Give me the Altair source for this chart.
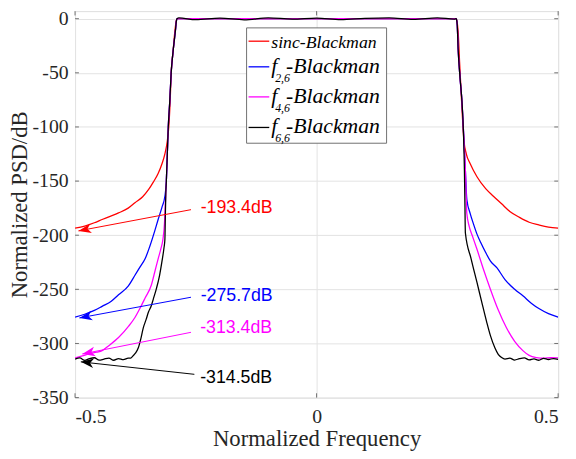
import altair as alt
import pandas as pd

# ---------------- data ----------------
x_ticks = [-0.5, 0.0, 0.5]
y_ticks = [-350, -300, -250, -200, -150, -100, -50, 0]

series_names = ["sinc-Blackman", "f2,6-Blackman", "f4,6-Blackman", "f6,6-Blackman"]
series_colors = ["#ff0000", "#0000ff", "#ff00ff", "#000000"]

pass_x = [-0.285, -0.25, -0.2, -0.15, -0.1, -0.05, 0.0, 0.05, 0.1, 0.15, 0.2, 0.25, 0.285]
pass_y_flat = [0, 0, 0, 0, 0, 0, 0, 0, 0, 0, 0, 0, 0]
pass_y_black = [0.7, -0.9, 0.5, -1.0, 0.8, -0.4, 0.6, -0.9, 0.3, 0.8, -0.6, 0.7, -0.3]

red_left_x = [-0.5, -0.48, -0.46, -0.444, -0.43, -0.41, -0.39, -0.376, -0.36, -0.348, -0.338,
              -0.328, -0.32, -0.314, -0.309, -0.306, -0.303, -0.301, -0.297, -0.293, -0.2905, -0.289]
red_left_y = [-193.4, -191.5, -188.5, -185.5, -183, -179.4, -175, -170, -164.5, -158, -151,
              -143, -134, -124.8, -113, -100, -75, -50, -30, -10, -2, 0]
red_right_x = [0.289, 0.2905, 0.293, 0.296, 0.3, 0.305, 0.31, 0.318, 0.332, 0.35, 0.366, 0.383,
               0.4, 0.42, 0.44, 0.46, 0.48, 0.5]
red_right_y = [0, -2, -12, -40, -75, -112.7, -125, -134, -146, -157, -164, -171,
               -178, -183.5, -188, -190.5, -192.5, -193.4]

blue_left_x = [-0.5, -0.48, -0.46, -0.444, -0.425, -0.41, -0.39, -0.376, -0.365, -0.355, -0.345,
               -0.335, -0.328, -0.32, -0.314, -0.311, -0.309, -0.307, -0.304, -0.301, -0.297,
               -0.292, -0.2905, -0.289]
blue_left_y = [-275.7, -273, -269.5, -265.7, -261, -255, -247, -237, -229, -221.8, -210,
               -196, -185.5, -174, -164, -150, -125, -100, -77, -50, -30,
               -10, -3, 0]
blue_right_x = [0.289, 0.291, 0.293, 0.297, 0.301, 0.305, 0.308, 0.311, 0.318, 0.325, 0.332,
                0.34, 0.35, 0.36, 0.373, 0.39, 0.41, 0.427, 0.445, 0.461, 0.48, 0.5]
blue_right_y = [0, -5, -28, -55, -77, -112, -140, -167, -180, -190, -199,
                -207, -216, -224, -230, -241, -250, -256, -263, -268, -272.5, -275.7]

mag_left_x = [-0.5, -0.485, -0.47, -0.455, -0.444, -0.43, -0.41, -0.389, -0.376, -0.365, -0.355,
              -0.342, -0.335, -0.328, -0.322, -0.318, -0.315, -0.313, -0.311, -0.309, -0.307,
              -0.304, -0.301, -0.297, -0.292, -0.2905, -0.289]
mag_left_y = [-313.4, -311.5, -309.5, -308, -306.6, -302, -294.5, -284, -276, -267, -258,
              -246, -234, -221.8, -212, -203.6, -190, -170, -150, -125, -100,
              -77, -50, -30, -10, -3, 0]
mag_right_x = [0.289, 0.291, 0.293, 0.297, 0.301, 0.305, 0.308, 0.311, 0.316, 0.322, 0.332,
               0.345, 0.359, 0.375, 0.393, 0.41, 0.427, 0.44, 0.455, 0.47, 0.485, 0.5]
mag_right_y = [0, -5, -28, -55, -77, -112, -140, -180, -192, -200, -213,
               -231, -249, -268, -285.5, -298, -306.6, -311, -313, -313.6, -313.2, -313.4]

blk_left_x = [-0.5, -0.49, -0.48, -0.47, -0.46, -0.45, -0.44, -0.43, -0.42, -0.41, -0.4, -0.39,
              -0.385, -0.38, -0.375, -0.369, -0.364, -0.359, -0.353, -0.348, -0.342, -0.338,
              -0.332, -0.325, -0.32, -0.316, -0.314, -0.313, -0.312, -0.311, -0.309, -0.307,
              -0.304, -0.301, -0.297, -0.292, -0.2905, -0.289]
blk_left_y = [-314.5, -313.4, -315.6, -314.0, -313.2, -315.4, -314.4, -313.5, -315.5, -314.0,
              -315.0, -313.6, -313.5, -311.5, -309, -304, -296, -286, -278, -271, -265, -259,
              -250, -237, -224, -212, -204, -180, -160, -150, -125, -100,
              -77, -50, -30, -10, -3, 0]
blk_right_x = [0.289, 0.291, 0.293, 0.297, 0.301, 0.304, 0.306, 0.307, 0.308, 0.32, 0.332, 0.342,
               0.352, 0.36, 0.369, 0.376, 0.383, 0.39, 0.4, 0.41, 0.42, 0.43, 0.44, 0.45, 0.46,
               0.47, 0.48, 0.49, 0.5]
blk_right_y = [0, -5, -28, -55, -77, -105, -140, -170, -198, -222, -243.6, -262,
               -280, -293, -304, -310, -313, -314.4, -313.6, -315.3, -314.0, -313.3, -315.1,
               -314.2, -315.5, -313.7, -314.8, -313.9, -314.6]

ann_text = ["-193.4dB", "-275.7dB", "-313.4dB", "-314.5dB"]
ann_text_x = [-0.24, -0.24, -0.241, -0.241]
ann_text_y = [-175.2, -256.4, -286.0, -331.5]
ann_tail_x = [-0.26, -0.26, -0.26, -0.253]
ann_tail_y = [-176.4, -257.3, -289.7, -328.5]
ann_head_x = [-0.493, -0.491, -0.485, -0.488]
ann_head_y = [-196.0, -276.4, -309.7, -317.0]
ann_angle = [348.7, 349.5, 348.6, 6.3]

# ---------------- build tables ----------------
series_xy = [
    (red_left_x + pass_x + red_right_x, red_left_y + pass_y_flat + red_right_y),
    (blue_left_x + pass_x + blue_right_x, blue_left_y + pass_y_flat + blue_right_y),
    (mag_left_x + pass_x + mag_right_x, mag_left_y + pass_y_flat + mag_right_y),
    (blk_left_x + pass_x + blk_right_x, blk_left_y + pass_y_black + blk_right_y),
]

SERIF = "Liberation Serif, Times New Roman, serif"
SANS = "Liberation Sans, Arial, sans-serif"
FRAME = "#707070"
GRID = "#e3e3e3"
TXT = "#262626"

xscale = alt.Scale(domain=[-0.5, 0.5], nice=False, zero=False)
yscale = alt.Scale(domain=[-350, 7], nice=False, zero=False)

label_expr = "(datum.value < 0 ? '-' : '') + abs(datum.value)"

x_axis = alt.Axis(values=x_ticks, title="Normalized Frequency", grid=True, gridColor=GRID,
                  domain=False, ticks=False, labelExpr=label_expr, labelFont=SERIF,
                  labelFontSize=20, labelColor=TXT, labelPadding=9, titleFont=SERIF,
                  titleFontSize=23, titleFontWeight="normal", titleColor=TXT, titlePadding=2)
y_axis = alt.Axis(values=y_ticks, title="Normalized PSD/dB", grid=True, gridColor=GRID,
                  domain=False, ticks=False, labelExpr=label_expr, labelFont=SERIF,
                  labelFontSize=20, labelColor=TXT, labelPadding=7, titleFont=SERIF,
                  titleFontSize=23, titleFontWeight="normal", titleColor=TXT, titlePadding=1)


def X(field):
    return alt.X(field, type="quantitative", scale=xscale, axis=x_axis)


def Y(field):
    return alt.Y(field, type="quantitative", scale=yscale, axis=y_axis)


layers = []
for name, col, (xs, ys) in zip(series_names, series_colors, series_xy):
    d = pd.DataFrame({"x": xs, "y": ys, "i": list(range(len(xs)))})
    layers.append(
        alt.Chart(d).mark_line(strokeWidth=1.3, color=col, clip=True, interpolate="monotone").encode(
            x=X("x"), y=Y("y"), order="i:Q"
        )
    )

# inward ticks (box style)
tick_len_x = 0.008
tick_len_y = 4.0
tick_rows = []
for v in y_ticks:
    tick_rows.append({"x": -0.5, "x2": -0.5 + tick_len_x, "y": v, "y2": v})
    tick_rows.append({"x": 0.5 - tick_len_x, "x2": 0.5, "y": v, "y2": v})
for v in x_ticks:
    tick_rows.append({"x": v, "x2": v, "y": -350, "y2": -350 + tick_len_y})
    tick_rows.append({"x": v, "x2": v, "y": 7, "y2": 7 - tick_len_y})
ticks = alt.Chart(pd.DataFrame(tick_rows)).mark_rule(color=FRAME, strokeWidth=1).encode(
    x=X("x"), x2="x2:Q", y=Y("y"), y2="y2:Q"
)

ann = pd.DataFrame({
    "text": ann_text, "color": series_colors,
    "tx": ann_text_x, "ty": ann_text_y,
    "ax": ann_tail_x, "ay": ann_tail_y,
    "hx": ann_head_x, "hy": ann_head_y,
    "angle": ann_angle,
})

arrow_lines = alt.Chart(ann).mark_rule(strokeWidth=1).encode(
    x=X("ax"), x2="hx:Q", y=Y("ay"), y2="hy:Q",
    color=alt.Color("color:N", scale=None, legend=None),
)
arrow_heads = alt.Chart(ann).mark_point(
    shape="M0,0 L2,-0.75 L1.45,0 L2,0.75 Z", filled=True, size=169, opacity=1
).encode(
    x=X("hx"), y=Y("hy"),
    angle=alt.Angle("angle:Q", scale=None),
    color=alt.Color("color:N", scale=None, legend=None),
)
ann_texts = alt.Chart(ann).mark_text(align="left", baseline="middle", font=SANS, fontSize=18).encode(
    x=X("tx"), y=Y("ty"),
    text="text:N",
    color=alt.Color("color:N", scale=None, legend=None),
)

# ---------------- legend (drawn) ----------------
one = pd.DataFrame({"a": [0]})
leg_box = alt.Chart(one).mark_rect(fill="white", stroke=FRAME, strokeWidth=1).encode(
    x=alt.value(174), x2=alt.value(316), y=alt.value(17), y2=alt.value(134)
)
leg_line_y = [30.5, 56.5, 87.0, 118.0]
leg_layers = [leg_box]
for col, ly in zip(series_colors, leg_line_y):
    leg_layers.append(alt.Chart(one).mark_rule(color=col, strokeWidth=1.3).encode(
        x=alt.value(176), x2=alt.value(197), y=alt.value(ly)))
leg_layers.append(alt.Chart(one).mark_text(align="left", baseline="alphabetic", font=SERIF,
                                           fontStyle="italic", fontSize=18, color="black").encode(
    x=alt.value(199), y=alt.value(leg_line_y[0] + 7), text=alt.value("sinc-Blackman")))
subs = ["2,6", "4,6", "6,6"]
for s, ly in zip(subs, leg_line_y[1:]):
    leg_layers.append(alt.Chart(one).mark_text(align="left", baseline="alphabetic", font=SERIF,
                                               fontStyle="italic", fontSize=22, color="black").encode(
        x=alt.value(199), y=alt.value(ly + 6), text=alt.value("f")))
    leg_layers.append(alt.Chart(one).mark_text(align="left", baseline="alphabetic", font=SERIF,
                                               fontStyle="italic", fontSize=12, color="black").encode(
        x=alt.value(203), y=alt.value(ly + 15), text=alt.value(s)))
    leg_layers.append(alt.Chart(one).mark_text(align="left", baseline="alphabetic", font=SERIF,
                                               fontStyle="italic", fontSize=22, color="black").encode(
        x=alt.value(214), y=alt.value(ly + 6), text=alt.value("-Blackman")))

chart = alt.layer(*layers, ticks, arrow_lines, arrow_heads, ann_texts, *leg_layers).properties(
    width=490, height=392,
    autosize=alt.AutoSizeParams(type="none"),
    padding={"left": 68, "top": 0, "right": 10, "bottom": 51},
).configure_view(stroke=FRAME, strokeWidth=1).configure(background="white")

chart.save("out.html", embed_options={"renderer": "svg", "actions": False})
